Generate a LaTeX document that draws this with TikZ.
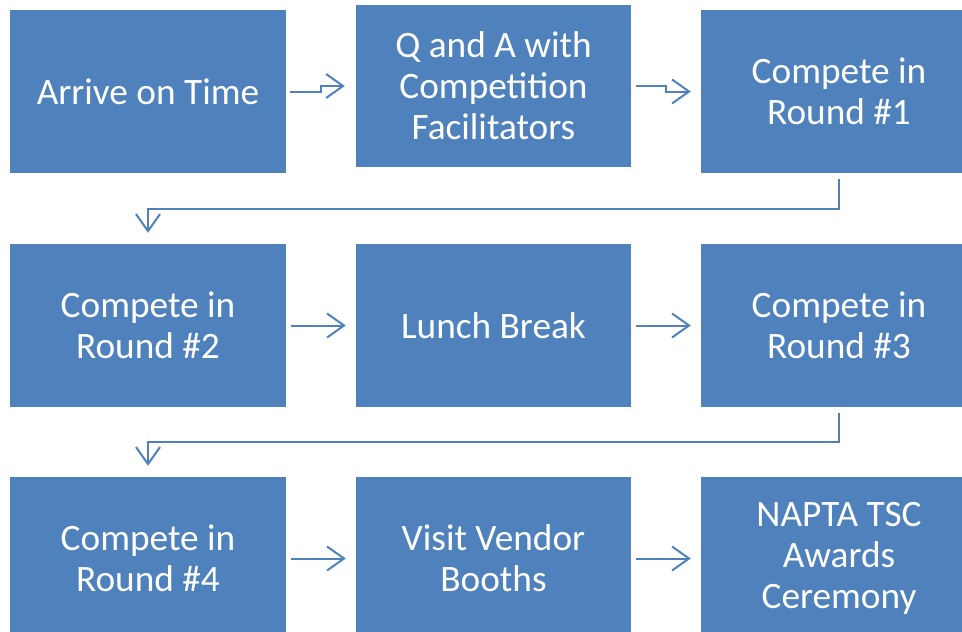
\documentclass[tikz,border=0pt]{standalone}
\usepackage{fontspec}
\setmainfont{Carlito}
\usetikzlibrary{arrows.meta}
\definecolor{boxblue}{RGB}{79,129,189}
\begin{document}
\begin{tikzpicture}[x=1pt,y=-1pt,
  stepbox/.style={fill=boxblue, draw=none, text=white, inner sep=0pt,
    minimum width=276pt, minimum height=163pt, align=center,
    font=\fontsize{37.3}{41}\selectfont},
  arr/.style={draw=boxblue, line width=2pt,
    -{Straight Barb[length=17pt,width=24pt,line width=2pt]}}]
\useasboundingbox (0,0) rectangle (962,632);
\node[stepbox] (b1) at (148,91.5) {Arrive on Time};
\node[stepbox, minimum width=275pt, minimum height=162pt] (b2) at (493.5,86) {Q and A with\\Competition\\Facilitators};
\node[stepbox] (b3) at (839,91.5) {Compete in\\Round \#1};
\node[stepbox] (b4) at (148,325.5) {Compete in\\Round \#2};
\node[stepbox, minimum width=275pt] (b5) at (493.5,325.5) {Lunch Break};
\node[stepbox] (b6) at (839,325.5) {Compete in\\Round \#3};
\node[stepbox] (b7) at (148,558.5) {Compete in\\Round \#4};
\node[stepbox, minimum width=275pt] (b8) at (493.5,558.5) {Visit Vendor\\Booths};
\node[stepbox] (b9) at (839,558.5) {NAPTA TSC\\Awards\\Ceremony};
\draw[arr] ([xshift=4pt]b1.east) -- ++(31,0) |- ([xshift=-11pt]b2.west);
\draw[arr] ([xshift=5pt]b2.east) -- ++(30,0) |- ([xshift=-10pt]b3.west);
\draw[arr] ([xshift=5pt]b4.east) -- ([xshift=-10pt]b5.west);
\draw[arr] ([xshift=5pt]b5.east) -- ([xshift=-10pt]b6.west);
\draw[arr] ([xshift=5pt]b7.east) -- ([xshift=-10pt]b8.west);
\draw[arr] ([xshift=5pt]b8.east) -- ([xshift=-10pt]b9.west);
\draw[arr] ([yshift=-6pt]b3.south) -- ++(0,30) -| ([yshift=11pt]b4.north);
\draw[arr] ([yshift=-6pt]b6.south) -- ++(0,29) -| ([yshift=11pt]b7.north);
\end{tikzpicture}
\end{document}
